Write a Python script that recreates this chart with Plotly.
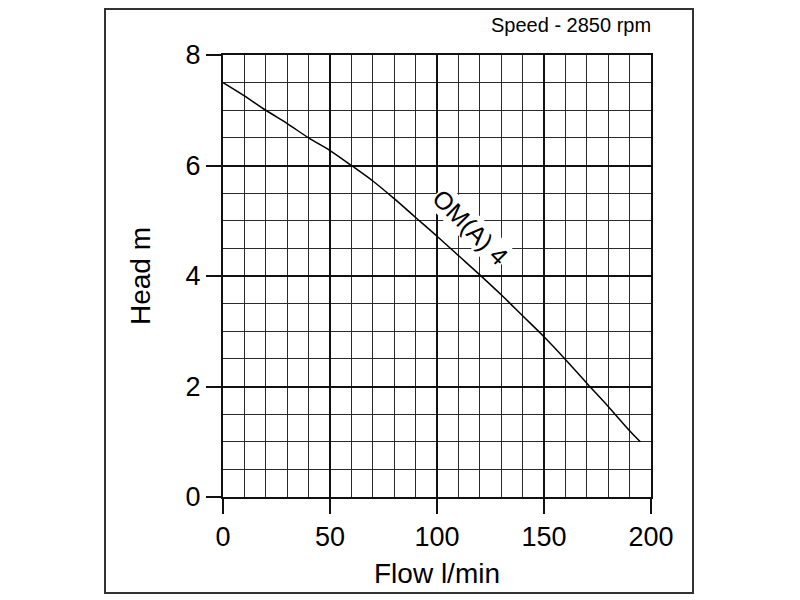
import plotly.graph_objects as go

# Curva de la bomba OM(A) 4 a 2850 rpm
caudal = [0, 10, 20, 30, 40, 50, 60, 70, 80, 90, 100, 110, 120, 130, 140, 150, 160, 170, 180, 190, 195]
altura = [7.5, 7.26, 7.0, 6.76, 6.5, 6.27, 6.0, 5.72, 5.4, 5.06, 4.72, 4.37, 4.02, 3.66, 3.28, 2.9, 2.49, 2.06, 1.64, 1.2, 1.0]

etiqueta_curva = "OM(A) 4"
texto_velocidad = "Speed - 2850 rpm"

FUENTE = "Arial, Liberation Sans, sans-serif"

# La página añade 8 px de margen al body: se compensa en los márgenes
DESPL = 8
L, R, T, B = 223 - DESPL, 149 + DESPL, 55 - DESPL, 103 + DESPL
ANCHO_AREA, ALTO_AREA = 428, 442


def px_a_paper(px, py):
    # coordenadas de la captura (px) -> coordenadas 'paper'
    return (px - 223) / ANCHO_AREA, (497 - py) / ALTO_AREA


fig = go.Figure()

fig.add_trace(
    go.Scatter(
        x=caudal,
        y=altura,
        mode="lines",
        line=dict(color="black", width=1.5, shape="spline"),
        showlegend=False,
    )
)

# Etiqueta girada sobre la curva, con fondo blanco que corta la rejilla
fig.add_annotation(
    x=115.5, y=4.88,
    text=etiqueta_curva,
    showarrow=False,
    textangle=45,
    bgcolor="white",
    borderpad=0,
    font=dict(family=FUENTE, size=25, color="black"),
)

vx, vy = px_a_paper(571, 25)
fig.add_annotation(
    xref="paper", yref="paper",
    x=vx, y=vy,
    xanchor="center", yanchor="middle",
    text=texto_velocidad,
    showarrow=False,
    font=dict(family=FUENTE, size=20, color="black"),
)

# Marco exterior (el borde superior queda en el límite de la figura)
x0, y0 = px_a_paper(105, 593)
x1, y1 = px_a_paper(693, 9)
fig.add_shape(
    type="rect", xref="paper", yref="paper",
    x0=x0, x1=x1, y0=y0, y1=y1,
    line=dict(color="#333333", width=2),
    layer="below",
)

eje = dict(
    showline=True,
    mirror=True,
    linecolor="#111111",
    linewidth=2,
    zeroline=False,
    showgrid=True,
    gridcolor="#111111",
    gridwidth=2,
    ticks="outside",
    ticklen=15,
    tickwidth=2,
    tickcolor="#111111",
    tickfont=dict(family=FUENTE, size=27, color="black"),
    title_font=dict(family=FUENTE, size=28, color="black"),
)

fig.update_xaxes(
    eje,
    range=[0, 200],
    dtick=50,
    title_text="Flow l/min",
    title_standoff=12,
    minor=dict(dtick=10, showgrid=True, gridcolor="#2a2a2a", gridwidth=1),
)
fig.update_yaxes(
    eje,
    range=[0, 8],
    dtick=2,
    title_text="Head m",
    title_standoff=27,
    minor=dict(dtick=0.5, showgrid=True, gridcolor="#2a2a2a", gridwidth=1),
)

fig.update_layout(
    width=800,
    height=600,
    margin=dict(l=L, r=R, t=T, b=B),
    paper_bgcolor="white",
    plot_bgcolor="white",
)

fig.write_html("out.html")
